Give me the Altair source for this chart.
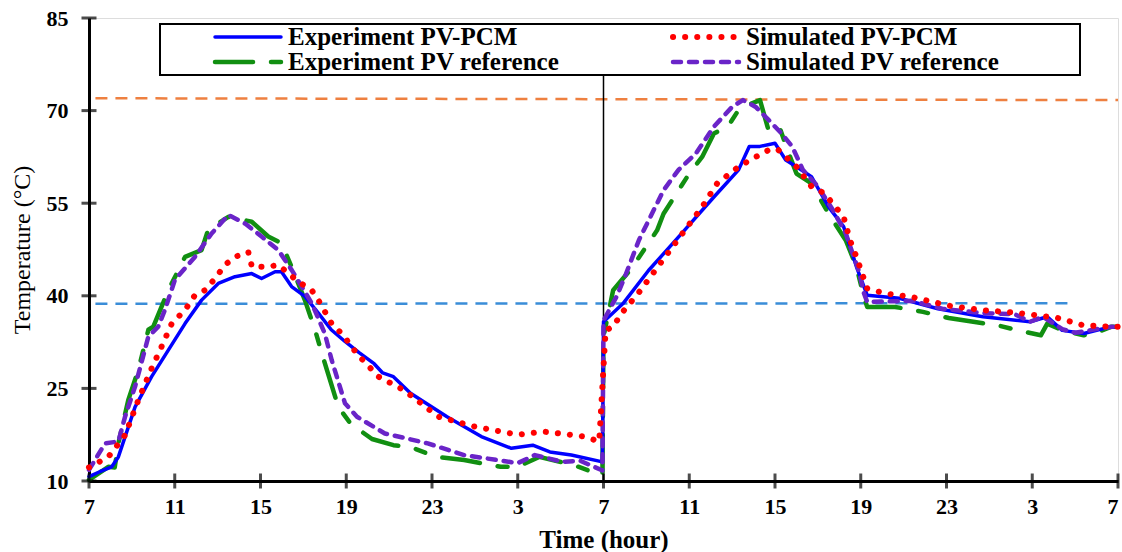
import altair as alt
import pandas as pd

SERIF = "'Liberation Serif', 'DejaVu Serif', serif"

SERIES = ["Experiment PV-PCM", "Simulated PV-PCM", "Experiment PV reference", "Simulated PV reference"]
COLORS = ["#0000FF", "#FF0000", "#118F11", "#6A24C8"]

# time in hours since 07:00 of day 1
exp_pcm_t = [0, 0.5, 1.06, 1.37, 2.15, 2.92, 3.7, 4.48, 5.25, 6.03, 6.81, 7.59, 8.05, 8.68, 8.98, 9.45, 10.07,
             10.7, 11.3, 11.94, 12.6, 13.3, 13.7, 14.2, 15.0, 16.7, 18.3, 19.7, 20.7, 21.5, 22.5, 23.95,
             24.0, 24.9, 26.1, 27.65, 29.15, 30.3, 30.8, 31.3, 32.0, 32.5, 33.0, 33.7, 34.5, 35.2, 35.8, 36.3,
             37.8, 39.6, 41.7, 43.9, 44.7, 45.4, 46.4, 47.7, 48.0]
exp_pcm_v = [10.7, 11.5, 12.3, 13.9, 22.0, 26.9, 31.2, 35.5, 39.3, 42.0, 43.1, 43.6, 42.8, 43.9, 43.9, 41.5, 39.9,
             37.2, 34.5, 32.6, 30.8, 29.0, 27.5, 26.9, 24.2, 20.4, 17.2, 15.3, 15.8, 14.7, 14.2, 13.1,
             35.8, 38.7, 44.1, 50.1, 56.0, 60.4, 64.2, 64.2, 64.7, 62.0, 60.9, 59.3, 54.4, 51.2, 44.7, 40.1,
             39.6, 37.9, 36.6, 35.8, 36.6, 34.4, 33.9, 35.0, 35.0]

sim_pcm_t = [0, 0.9, 1.68, 2.3, 2.85, 3.39, 3.86, 4.48, 4.94, 5.41, 5.88, 6.34, 6.81, 7.43, 7.6, 8.36, 8.83, 9.76,
             10.39, 10.7, 11.32, 11.86, 12.5, 13.5, 14.7, 16.3, 18.0, 20.0, 21.2, 22.0, 23.1, 23.8,
             24.1, 24.45, 24.85, 25.6, 26.3, 27.0, 28.6, 29.3, 30.3, 31.0, 31.7, 32.1, 33.0, 33.7, 34.3, 35.2,
             35.5, 35.8, 36.3, 37.1, 38.4, 40.1, 41.6, 43.4, 45.2, 46.4, 47.7, 48.0]
sim_pcm_v = [12.2, 13.9, 17.4, 23.1, 27.7, 31.8, 35.5, 37.7, 40.1, 40.9, 42.8, 45.0, 46.3, 47.1, 44.7, 44.7, 45.0, 42.3,
             40.9, 39.3, 35.5, 33.6, 30.6, 26.9, 24.7, 20.4, 18.8, 17.5, 18.0, 17.7, 17.2, 16.4,
             34.4, 35.0, 37.2, 40.3, 43.6, 46.9, 54.4, 58.2, 60.9, 62.3, 63.6, 63.8, 60.9, 57.7, 56.6, 52.8,
             49.0, 46.3, 41.2, 40.4, 39.8, 38.4, 37.7, 37.2, 36.4, 35.2, 35.0, 35.0]

exp_ref_t = [0, 0.9, 1.2, 1.37, 1.83, 2.3, 2.77, 3.0, 3.7, 4.48, 5.25, 5.56, 6.5, 7.59, 8.36, 8.98, 9.45, 10.07,
             10.54, 11.0, 11.63, 12.2, 13.2, 14.2, 15.0, 16.2, 17.5, 19.2, 20.0, 21.0, 22.6, 23.6, 23.95,
             24.0, 24.45, 25.3, 26.5, 26.8, 27.3, 28.0, 28.6, 29.15, 29.8, 30.3, 30.8, 31.3, 31.7, 32.2, 32.65,
             33.0, 33.7, 34.5, 35.3, 35.8, 36.15, 36.3, 37.6, 38.9, 40.1, 41.25, 42.4, 43.6, 44.4, 44.7, 45.4,
             46.4, 47.1, 47.7, 48.0]
exp_ref_v = [10.2, 12.3, 12.2, 16.1, 23.1, 28.0, 34.5, 35.0, 40.9, 46.3, 47.4, 50.7, 52.8, 52.0, 49.6, 48.5, 44.7, 39.3,
             34.5, 29.1, 22.0, 19.3, 16.8, 15.8, 15.5, 13.9, 13.4, 12.3, 12.3, 13.9, 12.6, 11.3, 11.0,
             33.4, 40.9, 44.4, 50.6, 53.3, 56.0, 59.8, 62.5, 66.3, 67.4, 70.1, 71.0, 71.7, 66.8, 67.4, 63.0,
             59.8, 58.2, 53.3, 49.0, 44.7, 39.8, 38.2, 38.2, 37.4, 36.4, 35.8, 35.2, 34.2, 33.6, 35.5, 34.4,
             33.6, 34.2, 35.0, 35.0]

sim_ref_t = [0, 0.75, 1.37, 1.68, 2.15, 2.77, 3.23, 3.54, 4.01, 4.94, 5.72, 6.5, 7.28, 8.05, 8.83, 9.45, 10.39,
             11.0, 11.32, 11.94, 12.5, 13.8, 15.8, 17.5, 20.0, 20.8, 22.1, 22.9, 23.95,
             24.0, 24.6, 25.0, 25.65, 26.8, 27.5, 28.3, 29.15, 30.0, 30.5, 31.1, 31.7, 32.3, 32.8, 33.3, 34.0,
             34.7, 35.3, 35.9, 36.15, 36.3, 38.4, 39.8, 41.7, 43.2, 43.9, 44.5, 45.4, 46.0, 47.0, 47.7, 48.0]
sim_ref_v = [11.8, 16.1, 16.4, 20.4, 25.3, 33.4, 35.0, 37.7, 42.6, 46.3, 50.1, 53.1, 51.7, 49.6, 47.4, 44.2, 38.8,
             33.9, 29.6, 22.6, 20.4, 17.7, 16.1, 14.2, 12.9, 14.2, 13.1, 13.3, 11.7,
             36.0, 39.8, 43.1, 49.0, 57.1, 60.4, 63.0, 67.4, 70.6, 71.7, 70.6, 68.5, 66.3, 64.2, 60.4, 57.7,
             53.9, 50.1, 44.1, 40.4, 39.0, 39.2, 37.9, 37.2, 37.0, 35.8, 36.6, 34.6, 34.0, 34.6, 35.0, 35.0]

X_TICKS = [0, 4, 8, 12, 16, 20, 24, 28, 32, 36, 40, 44, 48]
X_LABELS = ["7", "11", "15", "19", "23", "3", "7", "11", "15", "19", "23", "3", "7"]
Y_TICKS = [10, 25, 40, 55, 70, 85]

ORANGE_T = [0.3, 48.0]
ORANGE_V = [72.0, 71.7]
BLUE_T = [0.3, 45.7]
BLUE_V = [38.7, 38.8]
DAY_BOUNDARY = [24]

# ---------------------------------------------------------------------------
xs = alt.Scale(domain=[X_TICKS[0], X_TICKS[-1]], nice=False, zero=False)
ys = alt.Scale(domain=[Y_TICKS[0], Y_TICKS[-1]], nice=False, zero=False)

label_expr = ("[" + ",".join("'%s'" % l for l in X_LABELS) + "][indexof(["
              + ",".join(str(v) for v in X_TICKS) + "], datum.value)]")

x_axis = alt.Axis(values=X_TICKS, labelExpr=label_expr, title="Time (hour)", ticks=False, tickSize=0,
                  grid=False, domainColor="black", domainWidth=3, labelFont=SERIF, labelFontSize=22,
                  labelFontWeight="bold", labelColor="black", labelPadding=15, labelFlush=False,
                  labelAlign={"condition": {"test": "datum.value >= %d" % X_TICKS[-1], "value": "right"},
                              "value": "center"},
                  labelOverlap=False, titleFont=SERIF, titleFontSize=25, titleFontWeight="bold",
                  titleColor="black", titleY=66, titleBaseline="alphabetic")
y_axis = alt.Axis(values=Y_TICKS, title="Temperature (°C)", ticks=False, tickSize=0, grid=False,
                  domainColor="black", domainWidth=3, labelFont=SERIF, labelFontSize=22,
                  labelFontWeight="bold", labelColor="black", labelPadding=21, labelFlush=False,
                  titleFont=SERIF, titleFontSize=24, titleFontWeight="normal", titleColor="black",
                  titleAngle=270, titleX=-67, titleY=231.5, titleBaseline="middle", titleAlign="center")

X = alt.X("t:Q", scale=xs, axis=x_axis)
Y = alt.Y("T:Q", scale=ys, axis=y_axis)

one = pd.DataFrame({"a": [0]})
layers = []

# threshold dashed lines
for tt, vv, col in [(ORANGE_T, ORANGE_V, "#EE8040"), (BLUE_T, BLUE_V, "#3A8DD8")]:
    layers.append(alt.Chart(pd.DataFrame({"t": tt, "T": vv})).mark_line(
        color=col, strokeWidth=2.5, strokeDash=[12, 8]).encode(x=X, y=Y))

# day separator
layers.append(alt.Chart(pd.DataFrame({"t": DAY_BOUNDARY})).mark_rule(color="black", strokeWidth=1.5)
              .encode(x=X, y=alt.value(57), y2=alt.value(463)))

styles = {
    "Experiment PV reference": dict(strokeDash=[38, 18, 10, 18], strokeWidth=4.5),
    "Experiment PV-PCM": dict(strokeWidth=3.5),
    "Simulated PV reference": dict(strokeDash=[8, 8], strokeWidth=4.5),
    "Simulated PV-PCM": dict(strokeDash=[0.1, 12], strokeWidth=6),
}
series_data = {
    "Experiment PV-PCM": (exp_pcm_t, exp_pcm_v),
    "Simulated PV-PCM": (sim_pcm_t, sim_pcm_v),
    "Experiment PV reference": (exp_ref_t, exp_ref_v),
    "Simulated PV reference": (sim_ref_t, sim_ref_v),
}
color_of = dict(zip(SERIES, COLORS))
for name in ["Experiment PV reference", "Experiment PV-PCM", "Simulated PV reference", "Simulated PV-PCM"]:
    tt, vv = series_data[name]
    layers.append(alt.Chart(pd.DataFrame({"t": tt, "T": vv})).mark_line(
        color=color_of[name], strokeCap="round", strokeJoin="round", **styles[name]).encode(x=X, y=Y))

# crossing tick marks
layers.append(alt.Chart(pd.DataFrame({"t": X_TICKS, "T": [Y_TICKS[0]] * len(X_TICKS)})).mark_tick(
    orient="vertical", color="black", size=15, thickness=3).encode(x=X, y=Y))
layers.append(alt.Chart(pd.DataFrame({"t": [X_TICKS[0]] * len(Y_TICKS), "T": Y_TICKS})).mark_tick(
    orient="horizontal", color="black", size=15, thickness=3).encode(x=X, y=Y))

# legend box
layers.append(alt.Chart(one).mark_rect(fill="white", stroke="black", strokeWidth=2).encode(
    x=alt.value(71), x2=alt.value(991), y=alt.value(6), y2=alt.value(57)))
legend_pos = {
    "Experiment PV-PCM": (124, 19),
    "Simulated PV-PCM": (582, 19),
    "Experiment PV reference": (124, 44),
    "Simulated PV reference": (582, 44),
}
for name in SERIES:
    lx, ly = legend_pos[name]
    st = dict(styles[name])
    layers.append(alt.Chart(one).mark_rule(color=color_of[name], strokeCap="round", **st).encode(
        x=alt.value(lx + 2), x2=alt.value(lx + 68), y=alt.value(ly)))
    layers.append(alt.Chart(one).mark_text(align="left", baseline="alphabetic", font=SERIF, fontSize=25,
                                           fontWeight="bold", color="black").encode(
        x=alt.value(lx + 75), y=alt.value(ly + 8), text=alt.value(name)))

chart = alt.layer(*layers).properties(
    width=1029, height=463, autosize="none",
    padding={"left": 89, "top": 18, "right": 4, "bottom": 71},
).configure_view(stroke="black", strokeWidth=2.5).configure(background="white")

chart.save("out.html", embed_options={"renderer": "svg", "actions": False})
